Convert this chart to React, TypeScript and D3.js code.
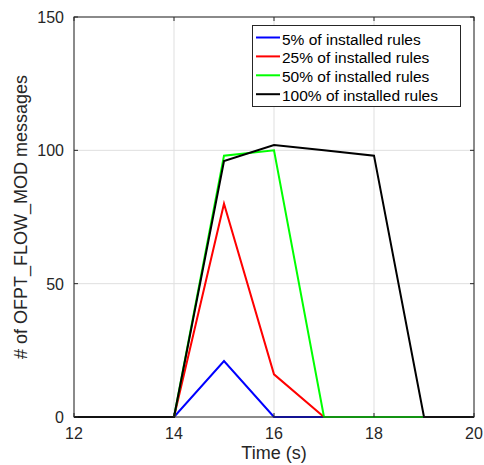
import React from "react";
import * as d3 from "d3";

const times = [12, 13, 14, 15, 16, 17, 18, 19, 20];
const seriesNames = ["5% of installed rules", "25% of installed rules", "50% of installed rules", "100% of installed rules"];
const s5 = [0, 0, 0, 21, 0, 0, 0, 0, 0];
const s25 = [0, 0, 0, 80, 16, 0, 0, 0, 0];
const s50 = [0, 0, 0, 98, 100, 0, 0, 0, 0];
const s100 = [0, 0, 0, 96, 102, 100, 98, 0, 0];
const colors = ["#0000ff", "#ff0000", "#00ff00", "#000000"];
const xTicks = [12, 14, 16, 18, 20];
const yTicks = [0, 50, 100, 150];

export default function App() {
  const W = 484, H = 465;
  const L = 74, R = 474, T = 17, B = 417;
  const x = d3.scaleLinear().domain([12, 20]).range([L, R]);
  const y = d3.scaleLinear().domain([0, 150]).range([B, T]);
  const line = d3.line<number>().x((_, i) => x(times[i])).y((d) => y(d));
  const all = [s5, s25, s50, s100];
  const font = "Liberation Sans, Arial, sans-serif";
  return (
    <svg width={W} height={H} style={{ position: "absolute", left: 0, top: 0 }} fontFamily={font}>
      <rect x={0} y={0} width={W} height={H} fill="#fff" />
      {xTicks.map((t) => (
        <line key={"gx" + t} x1={x(t)} x2={x(t)} y1={T} y2={B} stroke="#dfdfdf" strokeWidth={1} />
      ))}
      {yTicks.map((t) => (
        <line key={"gy" + t} x1={L} x2={R} y1={y(t)} y2={y(t)} stroke="#dfdfdf" strokeWidth={1} />
      ))}
      {all.map((s, i) => (
        <path key={i} d={line(s) || ""} fill="none" stroke={colors[i]} strokeWidth={2} strokeLinejoin="miter" />
      ))}
      <rect x={L} y={T} width={R - L} height={B - T} fill="none" stroke="#262626" strokeWidth={1} />
      {xTicks.map((t) => (
        <g key={"tx" + t}>
          <line x1={x(t)} x2={x(t)} y1={B} y2={B - 4} stroke="#262626" />
          <line x1={x(t)} x2={x(t)} y1={T} y2={T + 4} stroke="#262626" />
          <text x={x(t)} y={B + 22} textAnchor="middle" fontSize={16} fill="#262626">{t}</text>
        </g>
      ))}
      {yTicks.map((t) => (
        <g key={"ty" + t}>
          <line x1={L} x2={L + 4} y1={y(t)} y2={y(t)} stroke="#262626" />
          <line x1={R} x2={R - 4} y1={y(t)} y2={y(t)} stroke="#262626" />
          <text x={L - 10} y={y(t) + 6} textAnchor="end" fontSize={16} fill="#262626">{t}</text>
        </g>
      ))}
      <text x={(L + R) / 2} y={B + 42} textAnchor="middle" fontSize={18} fill="#262626">Time (s)</text>
      <text transform={`translate(27,${(T + B) / 2}) rotate(-90)`} textAnchor="middle" fontSize={18} fill="#262626">
        # of OFPT_FLOW_MOD messages
      </text>
      <g>
        <rect x={252.5} y={25.5} width={208} height={81} fill="#fff" stroke="#262626" strokeWidth={1} />
        {seriesNames.map((n, i) => (
          <g key={n}>
            <line x1={256} x2={280} y1={37.5 + i * 18.9} y2={37.5 + i * 18.9} stroke={colors[i]} strokeWidth={2} />
            <text x={282} y={37.5 + i * 18.9 + 7} fontSize={15.5} fill="#000">{n}</text>
          </g>
        ))}
      </g>
    </svg>
  );
}
